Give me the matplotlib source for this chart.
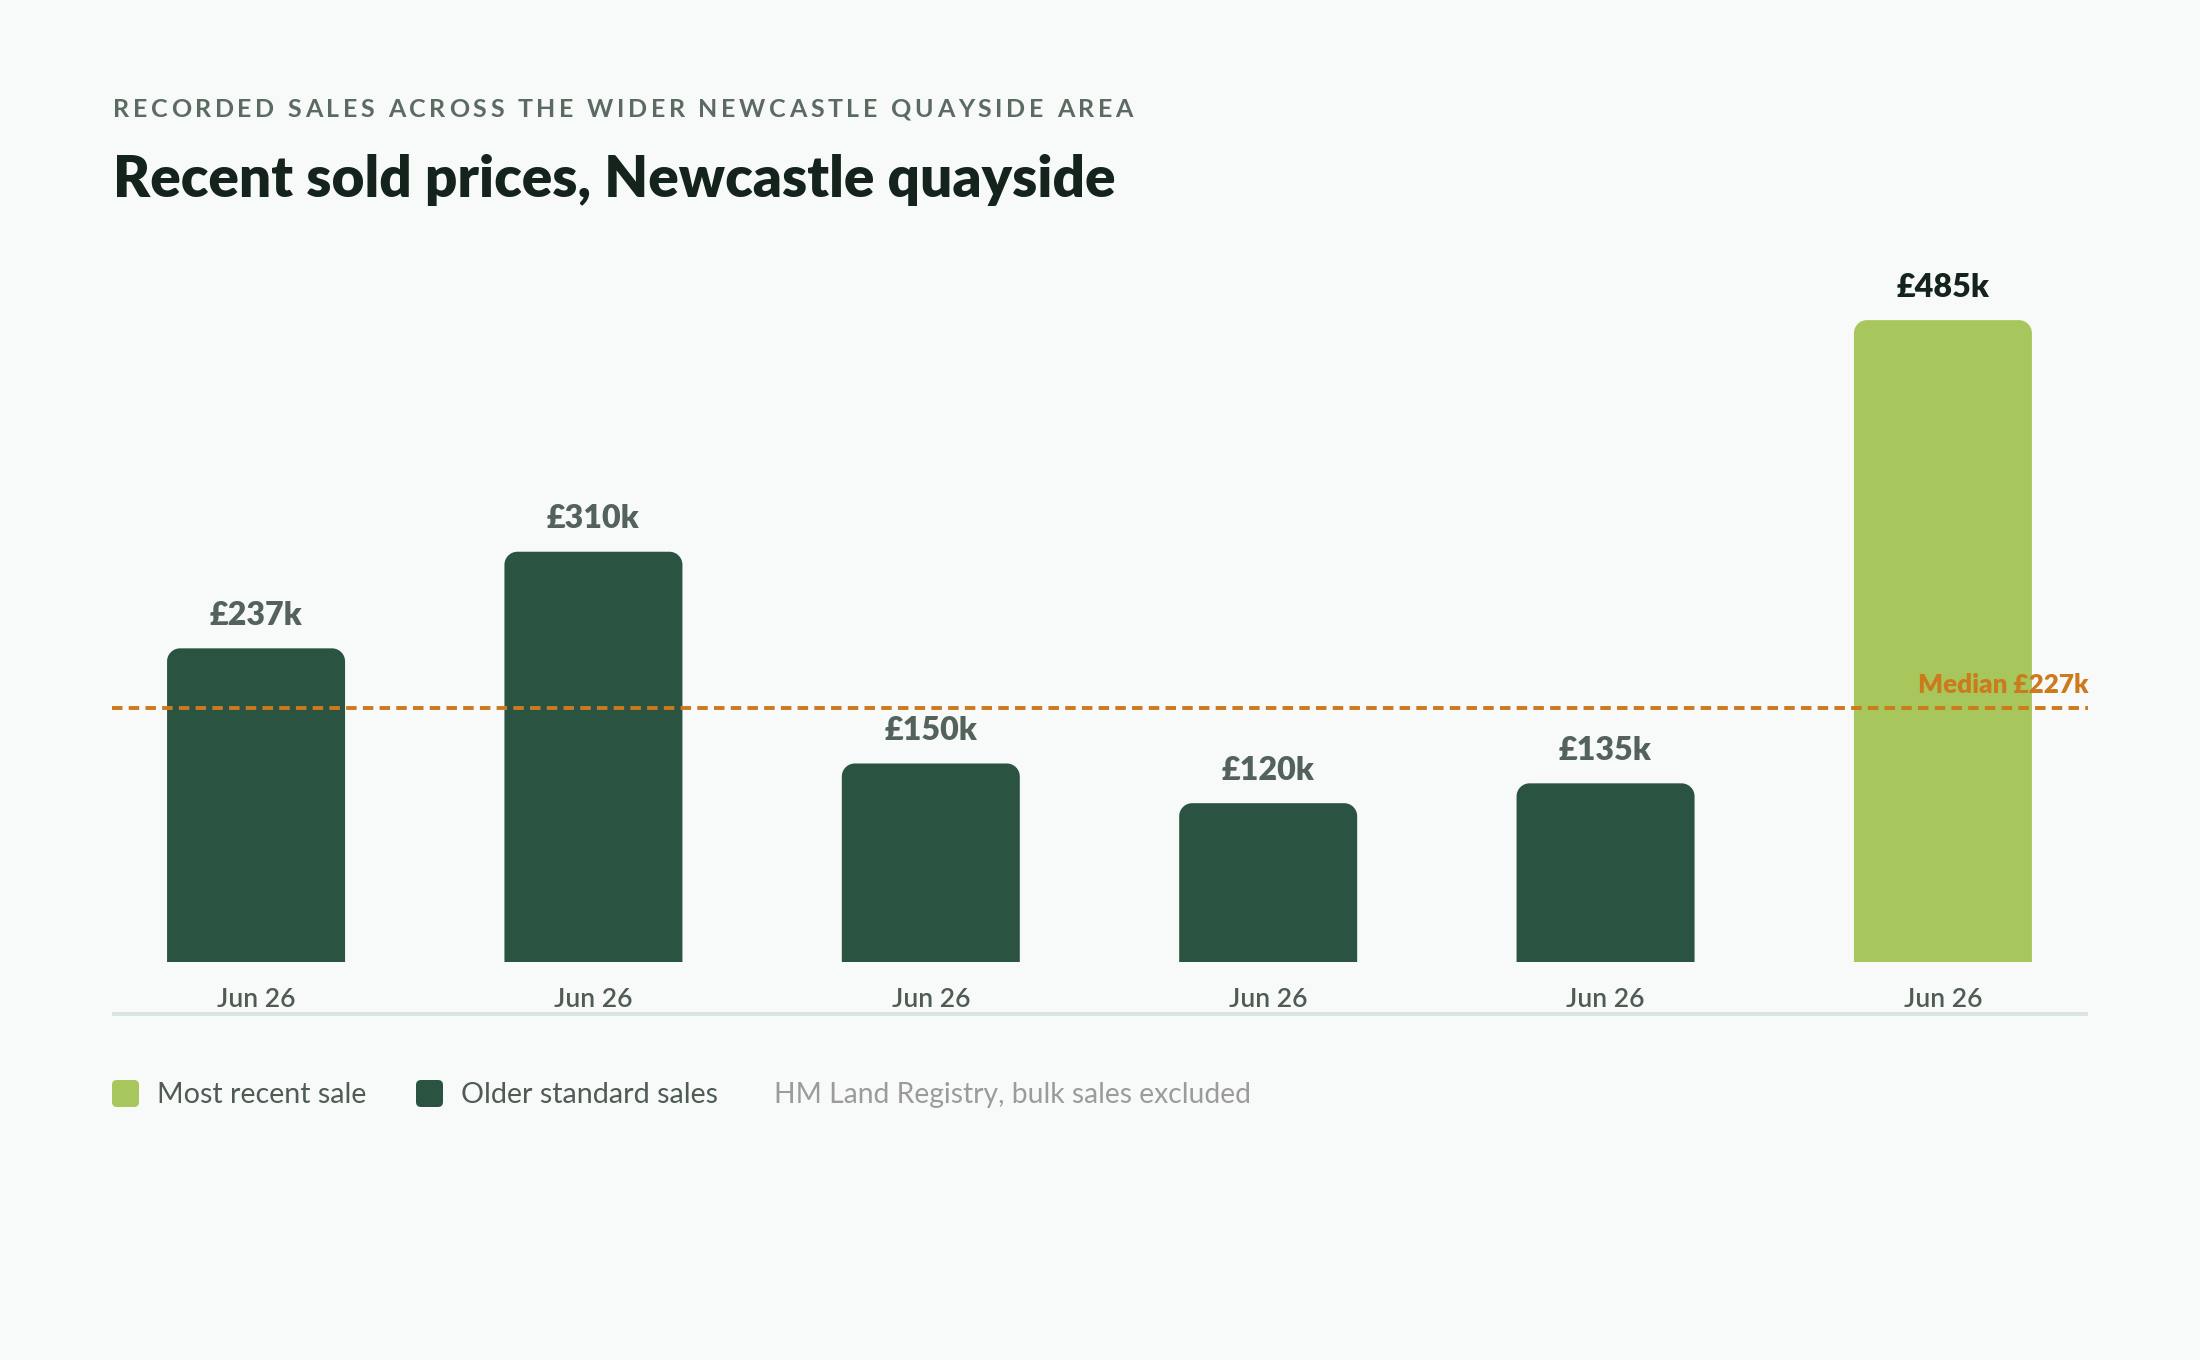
import matplotlib
matplotlib.use('agg')
import matplotlib.pyplot as plt
from matplotlib.patches import FancyBboxPatch, PathPatch
from matplotlib.path import Path
from matplotlib import font_manager
from matplotlib.font_manager import FontProperties
from matplotlib.ft2font import FT2Font
import numpy as np

# donnees
dates = ["Jun 26", "Jun 26", "Jun 26", "Jun 26", "Jun 26", "Jun 26"]
prix_k = [237, 310, 150, 120, 135, 485]
plus_recent = [False, False, False, False, False, True]
mediane_ligne = 192
mediane_label = "Median £227k"

sur_titre = "RECORDED SALES ACROSS THE WIDER NEWCASTLE QUAYSIDE AREA"
titre = "Recent sold prices, Newcastle quayside"
legende = ["Most recent sale", "Older standard sales"]
source = "HM Land Registry, bulk sales excluded"

W, H, DPI = 2200, 1360, 200
FOND = "#f8faf9"
VERT_FONCE = "#2a5341"
VERT_CLAIR = "#a7c65c"
ORANGE = "#cc7a1c"
FONT = "Lato"

plt.rcParams['font.family'] = [FONT, 'DejaVu Sans']

fig = plt.figure(figsize=(W / DPI, H / DPI), dpi=DPI, facecolor=FOND)
ax = fig.add_axes([112 / W, (H - 962) / H, 1976 / W, 712 / H])
ax.set_facecolor(FOND)
ax.set_xlim(-0.427, 5.43)
ax.set_ylim(0, 538)
for s in ax.spines.values():
    s.set_visible(False)
ax.set_yticks([])

x = np.arange(len(prix_k))
couleurs = [VERT_CLAIR if r else VERT_FONCE for r in plus_recent]
barres = ax.bar(x, prix_k, width=0.5276, color=couleurs, zorder=2)

# coins arrondis en haut seulement
fig.canvas.draw()
px_x = ax.transData.transform((1, 0))[0] - ax.transData.transform((0, 0))[0]
px_y = ax.transData.transform((0, 1))[1] - ax.transData.transform((0, 0))[1]
rx = 13 / px_x
ry = 13 / px_y
k = 0.5523
for b in barres:
    x0, y0 = b.get_x(), b.get_y()
    x1, y1 = x0 + b.get_width(), y0 + b.get_height()
    c = b.get_facecolor()
    b.set_visible(False)
    verts = [(x0, y0), (x1, y0), (x1, y1 - ry),
             (x1, y1 - ry + k * ry), (x1 - rx + k * rx, y1), (x1 - rx, y1),
             (x0 + rx, y1),
             (x0 + rx - k * rx, y1), (x0, y1 - ry + k * ry), (x0, y1 - ry),
             (x0, y0)]
    codes = [Path.MOVETO, Path.LINETO, Path.LINETO,
             Path.CURVE4, Path.CURVE4, Path.CURVE4,
             Path.LINETO,
             Path.CURVE4, Path.CURVE4, Path.CURVE4,
             Path.CLOSEPOLY]
    ax.add_patch(PathPatch(Path(verts, codes), fc=c, ec='none', zorder=2))

# etiquettes de valeur
for i, v in enumerate(prix_k):
    col = "#14231b" if plus_recent[i] else "#53625a"
    ax.annotate("£%dk" % v, (x[i], v), xytext=(0, 11.9), textcoords='offset points',
                ha='center', va='center', fontsize=11.6, fontweight='heavy', color=col, zorder=4)

# mediane
ax.axhline(mediane_ligne, color=ORANGE, lw=1.4, dashes=(2.7, 1.6), zorder=3)
ax.annotate(mediane_label, (1, mediane_ligne), xycoords=('axes fraction', 'data'),
            xytext=(0, 5.3), textcoords='offset points', ha='right', va='baseline',
            fontsize=9.4, fontweight='heavy', color=ORANGE, zorder=4)

# axe x
ax.set_xticks(x, dates)
ax.tick_params(axis='x', length=0, pad=16.2, labelsize=9.5, labelcolor="#4e5c54")
for lbl in ax.get_xticklabels():
    lbl.set_va('baseline')
    lbl.set_fontweight('semibold')
ax.plot([0, 1], [-0.073, -0.073], transform=ax.transAxes, clip_on=False,
        color="#dce6e1", lw=1.44, solid_capstyle='butt')


def texte_espace(x0, y0, s, taille, largeur, **kw):
    # texte avec espacement des lettres
    fp = FontProperties(family=FONT, weight=kw.get('fontweight', 'normal'))
    f = FT2Font(font_manager.findfont(fp))
    f.set_size(taille, DPI)
    av = []
    for ch in s:
        g = f.load_char(ord(ch))
        av.append(g.linearHoriAdvance / 65536)
    track = (largeur - sum(av)) / (len(s) - 1)
    cur = x0
    for ch, a in zip(s, av):
        fig.text(cur / W, 1 - y0 / H, ch, ha='left', va='baseline', fontsize=taille, **kw)
        cur += a + track


texte_espace(113, 117, sur_titre, 9.0, 1020, fontweight='bold', color="#5b6b62")
fig.text(113 / W, 1 - 197 / H, titre, ha='left', va='baseline', fontsize=20.4,
         fontweight='heavy', color="#14231b")

# legende
for xs, col, xt, txt in [(112, VERT_CLAIR, 157, legende[0]), (416, VERT_FONCE, 461, legende[1])]:
    fig.add_artist(FancyBboxPatch((xs / W, 1 - 1107 / H), 27 / W, 27 / H,
                                  boxstyle="round,pad=0,rounding_size=%f" % (5 / W),
                                  mutation_aspect=W / H, fc=col, ec='none',
                                  transform=fig.transFigure))
    fig.text(xt / W, 1 - 1103 / H, txt, ha='left', va='baseline', fontsize=10.3, color="#4e5c54")
fig.text(774 / W, 1 - 1103 / H, source, ha='left', va='baseline', fontsize=10.2, color="#9b9b9b")

fig.savefig("out.png", dpi=DPI, facecolor=FOND)
